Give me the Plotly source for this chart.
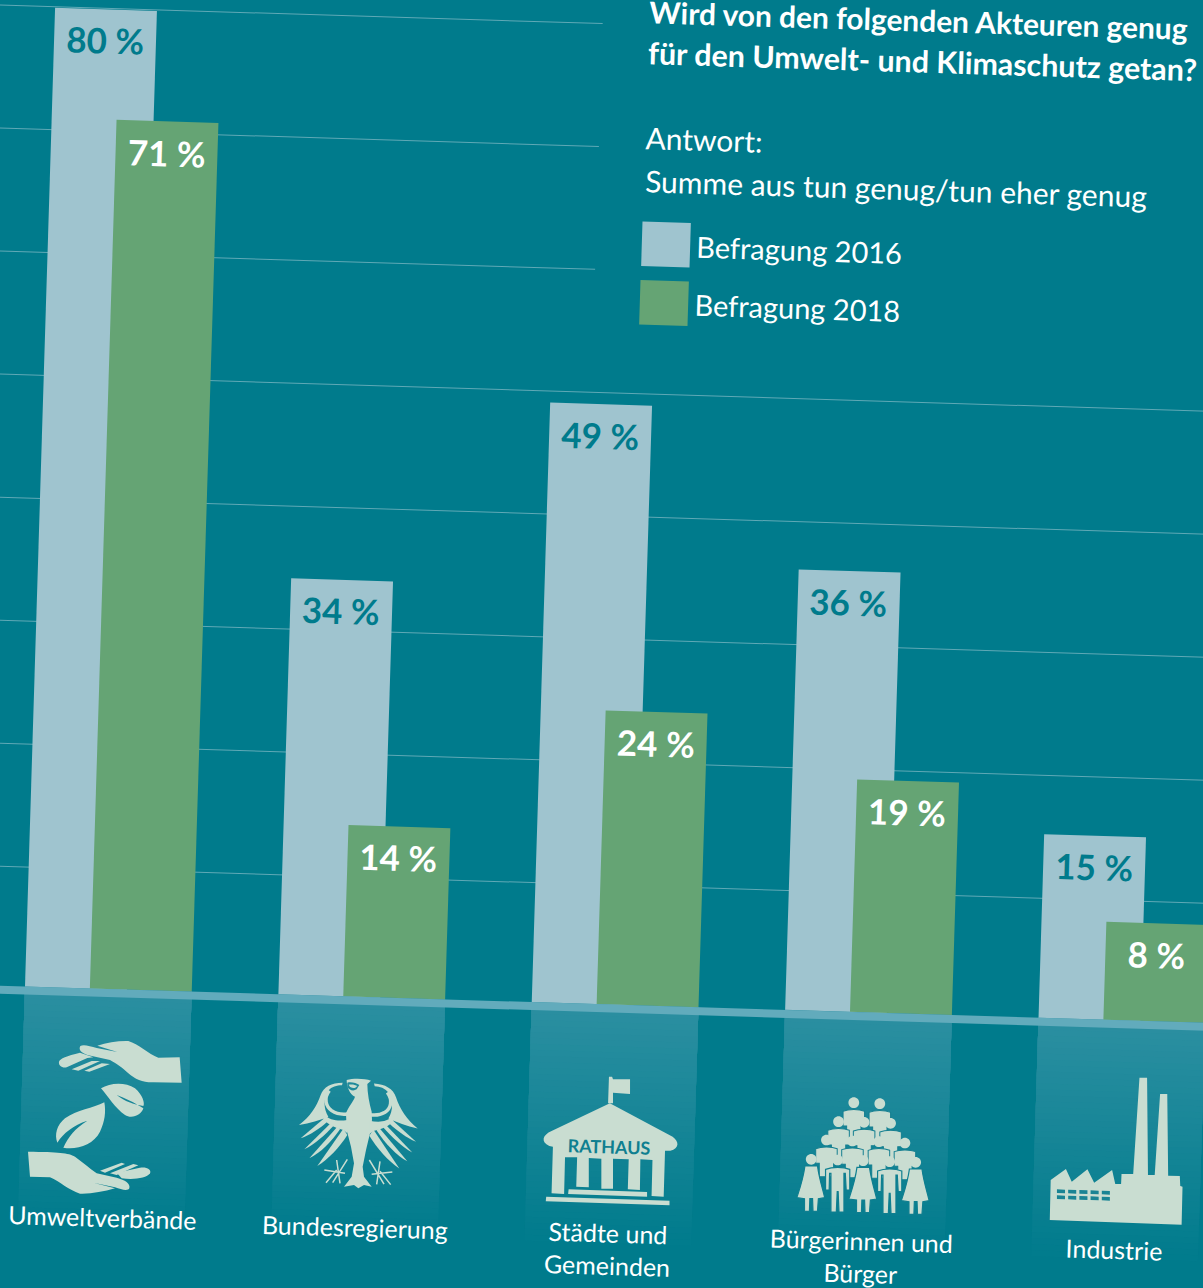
import math, re
import plotly.graph_objects as go

categories = ["Umweltverbände", "Bundesregierung", "Städte und<br>Gemeinden", "Bürgerinnen und<br>Bürger", "Industrie"]
befragung_2016 = [80, 34, 49, 36, 15]
befragung_2018 = [71, 14, 24, 19, 8]
grid_short = [60, 70, 80]
grid_long = [10, 20, 30, 40, 50]

BG = "#007b8c"; LIGHT = "#9fc4cf"; GREEN = "#65a474"; BASE = "#62abbc"; ICON = "#c9ddd1"; GRID = "#5fa9b6"
FONT = "Lato"
W, H, LEFT, TOP = 1400, 1500, -100, -106
TH = 1.76
S, C_ = math.sin(math.radians(TH)), math.cos(math.radians(TH))
CX, CY = LEFT + W / 2, TOP + H / 2

def to_px(sx, sy):
    dx, dy = sx - CX, sy - CY
    return CX + dx * C_ + dy * S - LEFT, CY - dx * S + dy * C_ - TOP

def P(sx, sy):
    px, py = to_px(sx, sy)
    return px / W, 1 - py / H

# axis calibration (pixels per unit)
PPX, PPY = 253.5, 12.24
bar_w, off_a, off_b = 0.402, -0.329, -0.073
px0, py0 = to_px(25, 986.5)
x_lo = off_a - px0 / PPX
x_hi = x_lo + W / PPX
y_hi = py0 / PPY
y_lo = -(H - py0) / PPY

PAIR = r"(-?\d+\.?\d*)[ ,]+(-?\d+\.?\d*)"

def ipath(d, ox, oy, s=3.0, sy=3.0):
    def rep(m):
        x, y = P(ox + float(m.group(1)) / s, oy + float(m.group(2)) / sy)
        return f"{x:.5f},{y:.5f}"
    return re.sub(PAIR, rep, d)

def fill(d, ox, oy, s=3.0, color=ICON, lc=None, lw=0):
    return dict(type="path", path=ipath(d, ox, oy, s), xref="paper", yref="paper", fillcolor=color, layer="above",
                line=dict(color=lc or color, width=lw))

def stroke(d, ox, oy, color=ICON, lw=2, s=3.0):
    return dict(type="path", path=ipath(d, ox, oy, s), xref="paper", yref="paper", layer="above",
                line=dict(color=color, width=lw))

shapes = []
# gridlines
for v in grid_long:
    shapes.append(dict(type="line", xref="x", yref="y", x0=x_lo, x1=x_hi, y0=v * 1.0047 - 0.29, y1=v * 1.0047 - 0.29, layer="below", line=dict(color=GRID, width=1)))
for v in grid_short:
    shapes.append(dict(type="line", xref="x", yref="y", x0=x_lo, x1=1.832, y0=v * 1.0047 - 0.29, y1=v * 1.0047 - 0.29, layer="below", line=dict(color=GRID, width=1)))

# gradient bands under each category
def mix(t):
    a = (0x2b, 0x8f, 0xa1); b = (0x00, 0x7b, 0x8c)
    return "#%02x%02x%02x" % tuple(round(a[i] * t + b[i] * (1 - t)) for i in range(3))
N = 40
for i in range(len(categories)):
    for k in range(N, 0, -1):
        shapes.append(dict(type="rect", xref="x", yref="y", x0=i + off_a, x1=i + off_b + bar_w, y0=0, y1=-19.5 * k / N,
                           fillcolor=mix(1 - (k - 1) / N), line=dict(width=0), layer="below"))
# baseline
shapes.append(dict(type="rect", xref="x", yref="y", x0=x_lo, x1=x_hi, y0=0, y1=-8 / PPY, fillcolor=BASE, line=dict(width=0), layer="above"))

# legend swatches
for (x0, y0, x1, y1, col) in [(642.5, 221.5, 689.5, 267.5, LIGHT), (640.5, 280, 687.5, 326, GREEN)]:
    a, b = P(x0, y0), P(x1, y1)
    shapes.append(dict(type="rect", xref="paper", yref="paper", x0=a[0], x1=b[0], y0=a[1], y1=b[1], fillcolor=col, line=dict(width=0), layer="above"))

# --- icon 1: hands and leaves (crop coords from origin 0,980)
o1 = (0, 980)
for d in [
    "M545 308 L539 232 L475 233 C445 222 415 192 385 183 C355 182 320 188 292 197 L352 216 L290 204 C270 198 250 192 241 198 C235 208 242 218 262 225 L330 240 C345 248 370 265 385 280 C405 298 430 308 460 307 Z",
    "M262 234 L200 262 C185 265 175 255 177 245 C180 235 200 228 240 218 L280 232 Z",
    "M215 268 L275 243 L300 243 L235 272 Z",
    "M253 272 L305 250 L330 252 L268 275 Z",
    "M303 325 C330 308 375 305 405 325 C428 345 435 370 430 378 C400 372 375 365 350 345 C375 355 400 365 430 385 C425 405 395 418 375 405 C345 385 325 350 303 325 Z",
    "M313 367 C280 385 230 390 195 415 C170 435 163 465 172 488 C190 460 220 435 262 422 C225 445 205 470 190 503 C230 510 280 495 300 455 C315 425 318 395 313 367 Z",
    "M84 515 L90 590 L150 592 C180 605 205 630 240 641 C275 642 310 635 345 625 L280 608 L345 622 C365 630 385 633 388 625 C392 610 375 600 350 593 L290 580 C270 565 245 545 225 530 C205 518 175 516 84 515 Z",
    "M365 595 C400 600 440 595 450 580 C455 568 440 560 420 563 L350 578 Z",
    "M300 572 L365 548 L375 552 L315 578 Z",
    "M330 580 L400 552 L415 556 L350 585 Z",
]:
    shapes.append(fill(d, *o1))

# --- icon 2: eagle (crop coords from origin 290,1070)
o3 = (290, 1070)
def mirror(d):
    def rep(m):
        x, y = float(m.group(1)), float(m.group(2))
        return f"{410 - x} {y + (410 - 2 * x) * 0.03}"
    return re.sub(PAIR, rep, d)
shapes.append(fill("M170 30 C190 24 225 25 243 32 L232 42 C232 70 238 100 245 125 L246 150 L240 190 L228 240 L218 290 L222 320 L245 350 L222 345 L205 355 L192 345 L162 350 L185 320 L192 280 L183 230 L170 180 L168 130 C175 110 190 95 195 80 C180 75 170 50 170 30 Z", *o3))
shapes.append(fill("M172 38 C185 35 200 40 208 45 L200 58 C188 66 176 58 172 50 Z", *o3, color="#1f8a9b"))
shapes.append(fill("M176 44 C186 42 196 44 202 48 L196 53 C188 56 180 52 176 44 Z", *o3))
wing = [
    "M158 38 C125 38 100 50 92 75 C80 110 60 140 27 165 C60 160 90 150 115 140 C100 115 100 85 115 62 C125 50 140 46 156 46 Z",
    "M100 147 L32 205 C60 195 90 175 112 155 Z",
    "M122 160 L43 238 C75 222 105 195 130 168 Z",
    "M142 170 L58 265 C90 250 125 215 150 178 Z",
    "M160 176 L82 288 C115 268 150 230 172 195 Z",
    "M100 132 C120 152 145 154 172 150 L172 190 L160 180 L142 175 L122 166 L100 150 Z",
]
for d in wing:
    shapes.append(fill(d, *o3))
    shapes.append(fill(mirror(d), *o3))
arc = "M118 62 C100 85 108 110 125 122 C140 132 155 134 172 132"
shapes.append(stroke(arc, *o3, lw=3.5))
shapes.append(stroke(mirror(arc), *o3, lw=3.5))
legs = "M172 268 L128 338 M103 300 L165 310 M108 338 L140 300 M140 270 L150 340"
shapes.append(stroke(legs, *o3, lw=1.5))
shapes.append(stroke(mirror(legs), *o3, lw=1.5))

# --- icon 3: town hall (crop origin 500,1000, horizontal scale 2.23, vertical 3)
o2 = (500, 1000)
SX = 2.23
for d in [
    "M243 230 L250 230 L252 238 L290 238 L290 282 L252 278 L252 310 L241 310 Z",
    "M245 310 L385 410 C400 425 400 445 380 452 L368 452 L365 590 L338 588 L340 480 L313 478 L312 570 L285 568 L287 478 L252 476 L252 566 L226 566 L226 476 L198 474 L198 562 L170 560 L172 472 L145 472 L143 582 L115 580 L118 440 L110 438 C90 425 95 405 115 393 Z",
    "M153 568 L328 576 L328 590 L152 582 Z",
    "M103 590 L378 602 L378 616 L102 604 Z",
]:
    shapes.append(fill(d, *o2, s=SX))

# --- icon 4: people
def head(x, y, rx=12, ry=16):
    k = 0.5523
    return (f"M{x-rx} {y} C{x-rx} {y-k*ry} {x-k*rx} {y-ry} {x} {y-ry} C{x+k*rx} {y-ry} {x+rx} {y-k*ry} {x+rx} {y} "
            f"C{x+rx} {y+k*ry} {x+k*rx} {y+ry} {x} {y+ry} C{x-k*rx} {y+ry} {x-rx} {y+k*ry} {x-rx} {y} Z")
back = [(789, 308), (847, 311), (755, 365), (812, 367), (871, 370), (728, 420), (786, 423), (845, 425), (903, 429)]
for (x, y) in back:
    body = f"M{x-24} {y+26} C{x-12} {y+19} {x+12} {y+19} {x+24} {y+26} L{x+24} {y+70} L{x+16} {y+70} L{x+16} {y+110} L{x-16} {y+110} L{x-16} {y+70} L{x-24} {y+70} Z"
    shapes.append(fill(body, *o2, s=SX, lc="#147f90", lw=1))
    shapes.append(fill(head(x, y), *o2, s=SX))
def male(x, y):
    return (f"M{x-27} {y+28} C{x-12} {y+20} {x+12} {y+20} {x+27} {y+28} L{x+27} {y+90} L{x+19} {y+90} L{x+17} {y+40} L{x+14} {y+40} L{x+14} {y+156} "
            f"L{x+3} {y+156} L{x+1} {y+95} L{x-1} {y+95} L{x-3} {y+156} L{x-15} {y+156} L{x-15} {y+40} L{x-18} {y+40} L{x-19} {y+90} L{x-27} {y+90} Z")
def female(x, y):
    return (f"M{x-14} {y+20} L{x+14} {y+20} C{x+18} {y+60} {x+26} {y+90} {x+30} {y+115} L{x+16} {y+118} L{x+14} {y+156} L{x+4} {y+156} L{x+3} {y+118} "
            f"L{x-3} {y+118} L{x-4} {y+156} L{x-15} {y+156} L{x-15} {y+118} L{x-32} {y+115} C{x-26} {y+90} {x-18} {y+60} {x-14} {y+20} Z")
for (x, y, fn) in [(694, 478, female), (753, 480, male), (810, 482, female), (869, 485, male), (927, 487, female)]:
    shapes.append(fill(fn(x, y), *o2, s=SX, lc="#0f7f90", lw=1.2))
    shapes.append(fill(head(x, y), *o2, s=SX))

# --- icon 5: factory
shapes.append(fill("M1226 660 L1228 540 L1262 507 L1275 545 L1310 508 L1325 548 L1365 510 L1372 552 L1385 552 L1386 522 L1412 522 L1426 233 L1443 233 L1445 525 L1460 525 L1472 282 L1488 282 L1490 527 L1516 528 L1517 558 L1522 560 L1520 674 Z", *o2, s=SX))
for r, yy in enumerate([568, 586]):
    for c, xx in enumerate([1242, 1267, 1292, 1317, 1342]):
        shapes.append(fill(f"M{xx} {yy+c} L{xx+18} {yy+c+1} L{xx+18} {yy+c+12} L{xx} {yy+c+11} Z", *o2, s=SX, color="#1a8494"))

fig = go.Figure()
fig.add_bar(name="Befragung 2016", x=categories, y=befragung_2016, width=bar_w, offset=off_a, marker=dict(color=LIGHT, line=dict(width=0)))
fig.add_bar(name="Befragung 2018", x=categories, y=befragung_2018, width=bar_w, offset=off_b, marker=dict(color=GREEN, line=dict(width=0)))

ann = []
def note(text, sx, sy, size, anchor="left", color="#ffffff"):
    x, y = P(sx, sy)
    ann.append(dict(text=text, x=x, y=y, xref="paper", yref="paper", xanchor=anchor, yanchor="middle", showarrow=False,
                    align="center" if anchor == "center" else "left", font=dict(family=FONT, size=size, color=color)))

for i in range(len(categories)):
    ann.append(dict(text=f"<b>{befragung_2016[i]} %</b>", x=i + off_a + bar_w / 2, y=befragung_2016[i] - 2.5, xref="x", yref="y",
                    showarrow=False, xanchor="center", yanchor="middle", font=dict(family=FONT, size=35, color=BG)))
    ann.append(dict(text=f"<b>{befragung_2018[i]} %</b>", x=i + off_b + bar_w / 2, y=befragung_2018[i] - 2.5, xref="x", yref="y",
                    showarrow=False, xanchor="center", yanchor="middle", font=dict(family=FONT, size=35, color="#ffffff")))

note("<b>Wird von den folgenden Akteuren genug</b>", 647, 11, 29.9)
note("<b>für den Umwelt- und Klimaschutz getan?</b>", 646, 52, 30.4)
note("Antwort:", 644, 137, 30)
note("Summe aus tun genug/tun eher genug", 643, 180, 30)
note("Befragung 2016", 694, 246, 29)
note("Befragung 2018", 692, 304, 29)
for t, sx, sy in zip(categories, [102, 355, 607, 861, 1114], [1217, 1227, 1249, 1257, 1249]):
    note(t, sx, sy, 25, anchor="center")
note("<b>RATHAUS</b>", 609, 1147, 18, anchor="center", color="#0f7f90")

fig.update_layout(
    width=W, height=H, margin=dict(l=0, r=0, t=0, b=0), paper_bgcolor=BG, plot_bgcolor=BG,
    barmode="overlay", showlegend=False, shapes=shapes, annotations=ann,
    xaxis=dict(type="category", range=[x_lo, x_hi], visible=False, categoryorder="array", categoryarray=categories),
    yaxis=dict(range=[y_lo, y_hi], visible=False),
)
post = f"""
var gd = document.getElementsByClassName('plotly-graph-div')[0];
document.documentElement.style.overflow='hidden';
document.body.style.margin='0'; document.body.style.overflow='hidden'; document.body.style.background='{BG}';
gd.style.position='absolute'; gd.style.left='{LEFT}px'; gd.style.top='{TOP}px';
gd.style.transformOrigin='center center'; gd.style.transform='rotate({TH}deg)';
"""
fig.write_html("out.html", post_script=post, default_width=f"{W}px", default_height=f"{H}px", config=dict(displayModeBar=False))
